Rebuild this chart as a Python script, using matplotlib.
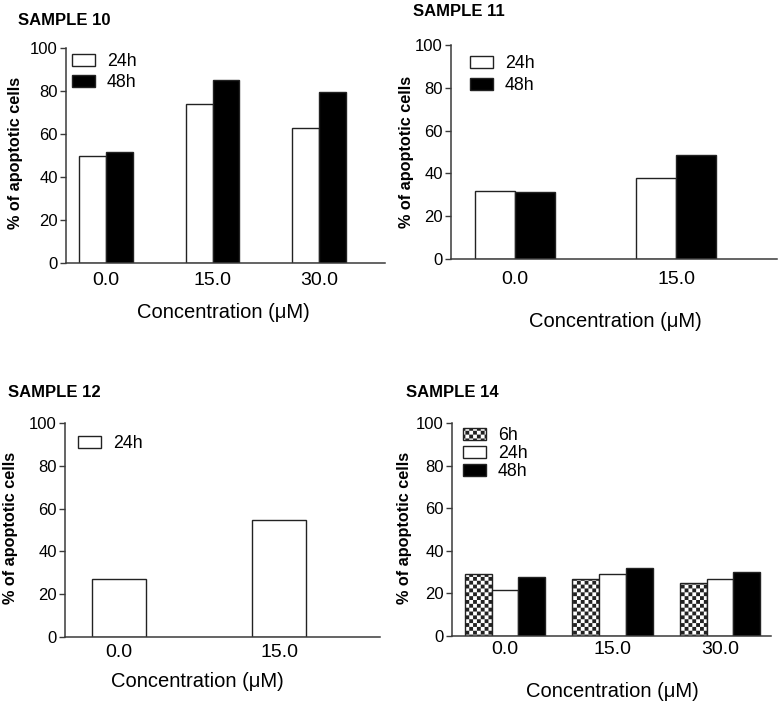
import matplotlib
matplotlib.use("Agg")
import matplotlib.pyplot as plt
import matplotlib.hatch as mhatch
from matplotlib.path import Path
import numpy as np

# ---------------- data ----------------
conc_3 = ["0.0", "15.0", "30.0"]
conc_2 = ["0.0", "15.0"]

s10_24h = [49.7, 74.1, 62.7]
s10_48h = [51.6, 84.9, 79.5]

s11_24h = [31.9, 37.8]
s11_48h = [31.3, 48.8]

s12_24h = [27.0, 54.7]

s14_6h = [29.3, 26.9, 24.9]
s14_24h = [21.8, 29.1, 26.8]
s14_48h = [27.7, 31.8, 29.9]

titles = ["SAMPLE 10", "SAMPLE 11", "SAMPLE 12", "SAMPLE 14"]
ylabel = "% of apoptotic cells"
xlabel = "Concentration (\u03bcM)"


# ---------------- checkerboard hatch ----------------
class CheckerHatch(mhatch.HatchPatternBase):
    def __init__(self, hatch, density):
        self.cells = 26 if '*' in hatch else 0
        n = self.cells
        self.num_vertices = (n * n // 2) * 5

    def set_vertices_and_codes(self, vertices, codes):
        n = self.cells
        s = 1.0 / n
        k = 0
        for i in range(n):
            for j in range(n):
                if (i + j) % 2 == 0:
                    x0, y0 = i * s, j * s
                    vertices[k:k + 5] = [(x0, y0), (x0 + s, y0), (x0 + s, y0 + s),
                                         (x0, y0 + s), (x0, y0)]
                    codes[k:k + 5] = [Path.MOVETO, Path.LINETO, Path.LINETO,
                                      Path.LINETO, Path.CLOSEPOLY]
                    k += 5


mhatch._hatch_types = [t for t in mhatch._hatch_types if t is not mhatch.Stars] + [CheckerHatch]

plt.rcParams['font.family'] = ['Liberation Sans', 'DejaVu Sans']
plt.rcParams['hatch.linewidth'] = 0.0
plt.rcParams['hatch.color'] = 'black'

W, H = 781, 701
fig = plt.figure(figsize=(W / 100, H / 100), dpi=100)

EDGE = '#222222'
SPINE = '#3a3a3a'


def make_ax(left, right, top, bottom):
    ax = fig.add_axes([left / W, 1 - bottom / H, (right - left) / W, (bottom - top) / H])
    ax.spines['top'].set_visible(False)
    ax.spines['right'].set_visible(False)
    for s in ('left', 'bottom'):
        ax.spines[s].set_color(SPINE)
        ax.spines[s].set_linewidth(1.1)
    ax.set_ylim(0, 100)
    ax.set_yticks([0, 20, 40, 60, 80, 100])
    ax.tick_params(axis='y', length=4.3, width=1.0, color=SPINE, labelsize=12, pad=1.5)
    return ax


def px_text(x, y, s, **kw):
    fig.text(x / W, 1 - y / H, s, **kw)


def legend(ax, handles, labels, dx, dy, spacing):
    leg = ax.legend(handles, labels, loc='upper left', frameon=False,
                    bbox_to_anchor=(dx / (ax.bbox.width), 1 - dy / ax.bbox.height),
                    borderaxespad=0, borderpad=0, fontsize=12.8,
                    handlelength=1.29, handleheight=0.67, handletextpad=0.68,
                    labelspacing=spacing)
    return leg


bar_kw = dict(edgecolor=EDGE, linewidth=1.0)
YL = dict(fontsize=11.7, fontweight='bold', rotation=90, ha='center', va='center')
TL = dict(fontsize=12, fontweight='bold', va='baseline')
XL = dict(fontsize=14.5, ha='center', va='baseline')
XT = 14

# ---------- panel 1: SAMPLE 10 ----------
ax1 = make_ax(66, 385, 48, 263)
x = np.arange(len(conc_3))
w = 0.25
b1 = ax1.bar(x - w / 2, s10_24h, w, color='white', label='24h', **bar_kw)
b2 = ax1.bar(x + w / 2, s10_48h, w, color='black', label='48h', **bar_kw)
ax1.set_xlim(-0.376, 2.62)
ax1.set_xticks(x)
ax1.set_xticklabels(conc_3)
ax1.tick_params(axis='x', length=0, labelsize=XT, pad=6.5)
legend(ax1, [b1, b2], ['24h', '48h'], 6, 5, 0.24)
px_text(18, 25, titles[0], **TL)
px_text(16, 153, ylabel, **YL)
px_text(223, 318, xlabel, **XL)

# ---------- panel 2: SAMPLE 11 ----------
ax2 = make_ax(451, 777, 45, 259)
x = np.arange(len(conc_2))
c1 = ax2.bar(x - w / 2, s11_24h, w, color='white', label='24h', **bar_kw)
c2 = ax2.bar(x + w / 2, s11_48h, w, color='black', label='48h', **bar_kw)
ax2.set_xlim(-0.398, 1.627)
ax2.set_xticks(x)
ax2.set_xticklabels(conc_2)
ax2.tick_params(axis='x', length=0, labelsize=XT, pad=9)
legend(ax2, [c1, c2], ['24h', '48h'], 19, 10, 0.29)
px_text(413, 16, titles[1], **TL)
px_text(407, 152, ylabel, **YL)
px_text(615, 327, xlabel, **XL)

# ---------- panel 3: SAMPLE 12 ----------
ax3 = make_ax(65, 380, 423, 637)
x = np.arange(len(conc_2))
w3 = 1 / 3
d1 = ax3.bar(x, s12_24h, w3, color='white', label='24h', **bar_kw)
ax3.set_xlim(-0.3375, 1.631)
ax3.set_xticks(x)
ax3.set_xticklabels(conc_2)
ax3.tick_params(axis='x', length=0, labelsize=XT, pad=5)
legend(ax3, [d1], ['24h'], 13, 12, 0.2)
px_text(8, 397, titles[2], **TL)
px_text(11, 528, ylabel, **YL)
px_text(197, 687, xlabel, **XL)

# ---------- panel 4: SAMPLE 14 ----------
ax4 = make_ax(452, 771, 423, 636)
x = np.arange(len(conc_3))
e0 = ax4.bar(x - w, s14_6h, w, color='white', hatch='*', label='6h', **bar_kw)
e1 = ax4.bar(x, s14_24h, w, color='white', label='24h', **bar_kw)
e2 = ax4.bar(x + w, s14_48h, w, color='black', label='48h', **bar_kw)
ax4.set_xlim(-0.493, 2.474)
ax4.set_xticks(x)
ax4.set_xticklabels(conc_3)
ax4.tick_params(axis='x', length=0, labelsize=XT, pad=3.5)
legend(ax4, [e0, e1, e2], ['6h', '24h', '48h'], 11, 4, 0.06)
px_text(406, 397, titles[3], **TL)
px_text(405, 528, ylabel, **YL)
px_text(612, 697, xlabel, **XL)

fig.savefig('out.png', dpi=100)
